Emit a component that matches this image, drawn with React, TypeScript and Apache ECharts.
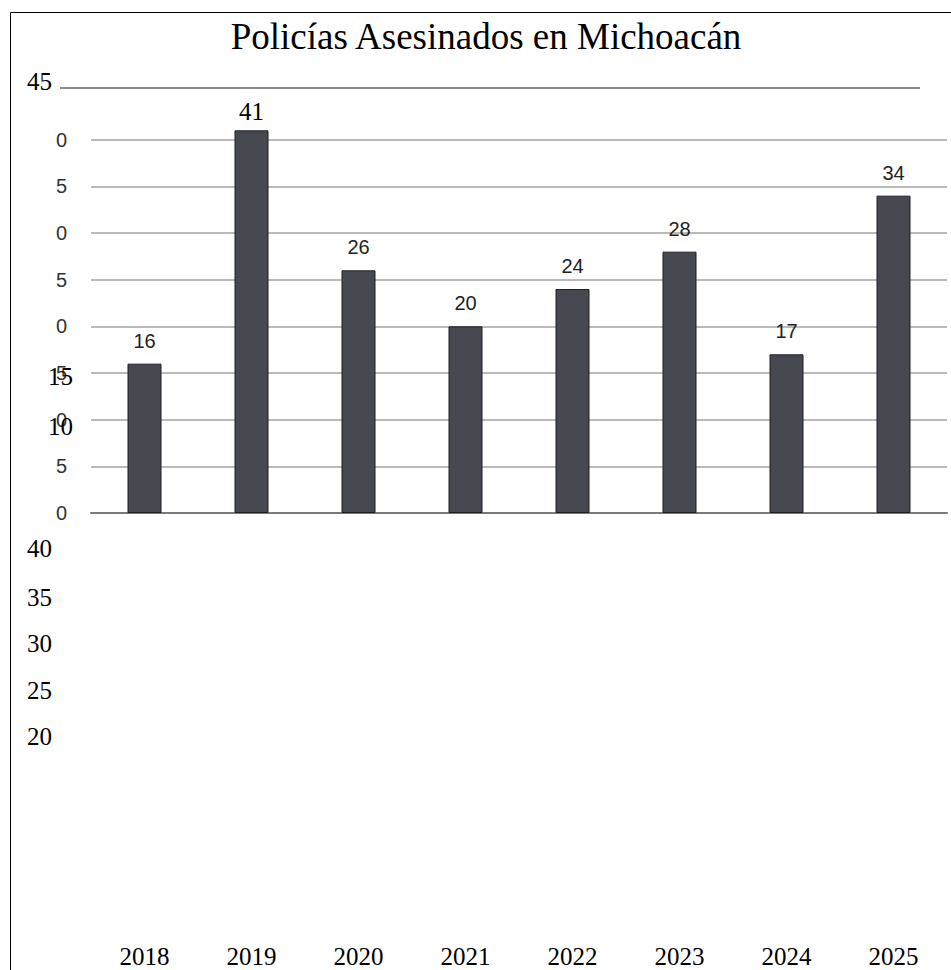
import React, { useEffect, useRef } from "react";
import * as echarts from "echarts";

const categories = ["2018", "2019", "2020", "2021", "2022", "2023", "2024", "2025"];
const values = [16, 41, 26, 20, 24, 28, 17, 34];
const topTickLabel = "45";
const lowerTickLabels = ["40", "35", "30", "25", "20"];
const midTickLabels = ["15", "10"];
const title = "Policías Asesinados en Michoacán";

const SERIF = '"Liberation Serif", "Times New Roman", serif';
const SANS = '"Liberation Sans", Arial, sans-serif';

export default function App() {
  const ref = useRef<HTMLDivElement>(null);
  useEffect(() => {
    if (!ref.current) return;
    const chart = echarts.init(ref.current, undefined, { renderer: "svg" });

    const graphics: any[] = [
      {
        type: "rect",
        shape: { x: 10.5, y: 12.5, width: 1000, height: 1000 },
        style: { fill: "none", stroke: "#000", lineWidth: 1 },
        z: 1,
      },
      {
        type: "text",
        x: 486,
        y: 36,
        style: {
          text: title,
          font: `37px ${SERIF}`,
          fill: "#000",
          textAlign: "center",
          textVerticalAlign: "middle",
        },
        z: 10,
      },
      {
        type: "line",
        shape: { x1: 60, y1: 88, x2: 920, y2: 88 },
        style: { stroke: "#8c8c8c", lineWidth: 2 },
        z: 5,
      },
      {
        type: "text",
        x: 52,
        y: 81,
        style: {
          text: topTickLabel,
          font: `25px ${SERIF}`,
          fill: "#000",
          textAlign: "right",
          textVerticalAlign: "middle",
        },
        z: 10,
      },
    ];
    const lowerY = [548, 597, 643, 690, 736];
    lowerTickLabels.forEach((t, i) => {
      graphics.push({
        type: "text",
        x: 52,
        y: lowerY[i],
        style: {
          text: t,
          font: `25px ${SERIF}`,
          fill: "#000",
          textAlign: "right",
          textVerticalAlign: "middle",
        },
        z: 10,
      });
    });
    const midY = [376, 426];
    midTickLabels.forEach((t, i) => {
      graphics.push({
        type: "text",
        x: 73,
        y: midY[i],
        style: {
          text: t,
          font: `25px ${SERIF}`,
          fill: "#000",
          textAlign: "right",
          textVerticalAlign: "middle",
        },
        z: 10,
      });
    });

    chart.setOption({
      animation: false,
      backgroundColor: "#fff",
      grid: { left: 91, right: 4, top: 93, bottom: 457 },
      xAxis: {
        type: "category",
        data: categories,
        axisLine: { show: true, lineStyle: { color: "#7a7a7a", width: 2 } },
        axisTick: { show: false },
        axisLabel: {
          margin: 431,
          fontFamily: SERIF,
          fontSize: 25,
          color: "#000",
        },
      },
      yAxis: {
        type: "value",
        min: 0,
        max: 45,
        interval: 5,
        axisLine: { show: false },
        axisTick: { show: false },
        splitLine: {
          show: true,
          showMaxLine: false,
          lineStyle: { color: "#a3a3a3", width: 1.5 },
        },
        axisLabel: {
          margin: 24,
          fontFamily: SANS,
          fontSize: 20,
          color: "#333",
          formatter: (v: number) => (v >= 45 ? "" : String(v % 10)),
        },
      },
      series: [
        {
          type: "bar",
          barWidth: 34,
          data: values.map((v, i) =>
            i === 1
              ? {
                  value: v,
                  label: { fontFamily: SERIF, fontSize: 25, color: "#000", distance: 6 },
                }
              : v
          ),
          itemStyle: { color: "#46494f", borderColor: "#1e1f22", borderWidth: 1 },
          label: {
            show: true,
            position: "top",
            distance: 13,
            fontFamily: SANS,
            fontSize: 20,
            color: "#222",
          },
        },
      ],
      graphic: graphics,
    });
    return () => chart.dispose();
  }, []);
  return (
    <div
      ref={ref}
      style={{ position: "absolute", left: 0, top: 0, width: 951, height: 970 }}
    />
  );
}
